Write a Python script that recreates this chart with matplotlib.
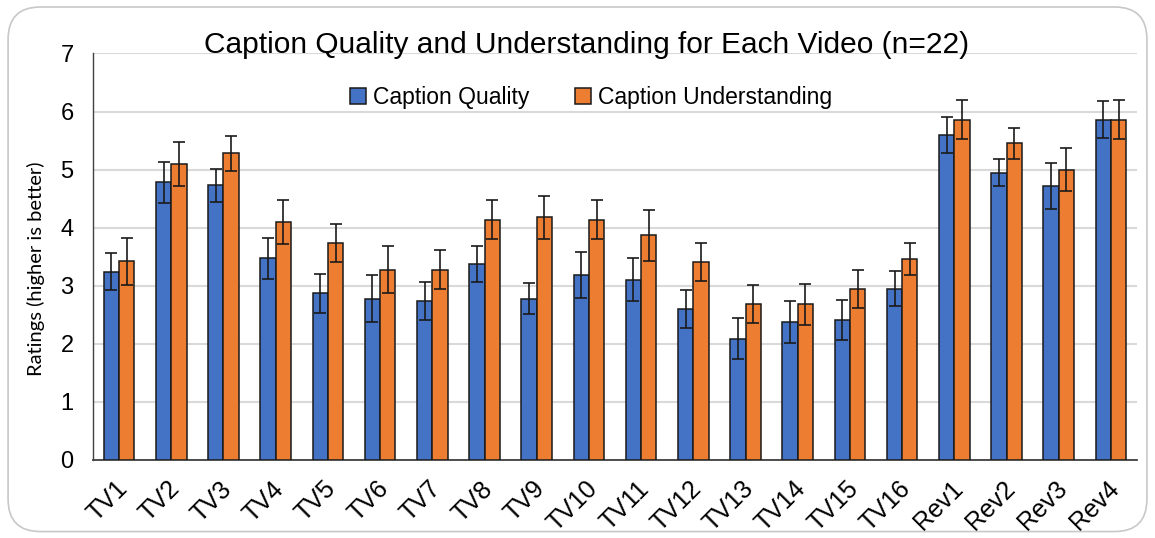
import matplotlib.pyplot as plt
import numpy as np
from matplotlib.patches import FancyBboxPatch
from matplotlib.transforms import ScaledTranslation

plt.rcParams['font.family'] = ['Liberation Sans', 'DejaVu Sans']

# data
videos = ['TV1', 'TV2', 'TV3', 'TV4', 'TV5', 'TV6', 'TV7', 'TV8', 'TV9', 'TV10',
          'TV11', 'TV12', 'TV13', 'TV14', 'TV15', 'TV16', 'Rev1', 'Rev2', 'Rev3', 'Rev4']
quality = [3.24, 4.78, 4.73, 3.47, 2.87, 2.78, 2.74, 3.37, 2.78, 3.19,
           3.10, 2.60, 2.09, 2.37, 2.41, 2.95, 5.59, 4.95, 4.72, 5.86]
quality_err = [0.32, 0.35, 0.28, 0.36, 0.34, 0.41, 0.33, 0.31, 0.27, 0.40,
               0.37, 0.33, 0.35, 0.36, 0.35, 0.30, 0.31, 0.23, 0.39, 0.32]
understanding = [3.42, 5.10, 5.28, 4.10, 3.74, 3.28, 3.28, 4.14, 4.18, 4.14,
                 3.87, 3.41, 2.69, 2.68, 2.95, 3.46, 5.86, 5.45, 5.00, 5.86]
understanding_err = [0.40, 0.38, 0.30, 0.38, 0.33, 0.41, 0.34, 0.34, 0.37, 0.34,
                     0.44, 0.33, 0.33, 0.35, 0.33, 0.28, 0.34, 0.27, 0.37, 0.34]

fig = plt.figure(figsize=(11.55, 5.38), dpi=100)
ax = fig.add_axes([0.0805, 0.145, 0.904, 0.7556])

x = np.arange(len(videos))
w = 0.293
err_kw = dict(ecolor='#1a1a1a', elinewidth=1.2, capsize=4, capthick=1.2)
ax.bar(x - w/2, quality, w, yerr=quality_err, color='#4472C4', edgecolor='#1a1a1a',
       linewidth=1.1, label='Caption Quality', error_kw=err_kw, zorder=3)
ax.bar(x + w/2, understanding, w, yerr=understanding_err, color='#ED7D31', edgecolor='#1a1a1a',
       linewidth=1.1, label='Caption Understanding', error_kw=err_kw, zorder=3)

ax.set_xlim(-0.5, len(videos) - 0.5)
ax.set_ylim(0, 7)
ax.set_yticks(range(0, 8))
ax.grid(axis='y', color='#d9d9d9', linewidth=1.5, zorder=0)
ax.set_axisbelow(True)
for s in ['top', 'right']:
    ax.spines[s].set_visible(False)
ax.spines['left'].set_color('#404040')
ax.spines['bottom'].set_color('#404040')
ax.spines['left'].set_linewidth(1.0)
ax.spines['bottom'].set_linewidth(1.3)
ax.tick_params(length=0, labelsize=17, pad=12)
ax.tick_params(axis='y', pad=14)
ax.set_xticks(x)
ax.set_xticklabels(videos, rotation=45, ha='right', rotation_mode='anchor', fontsize=18)
# nudge the rotated labels a little to the left, like the original
shift = ScaledTranslation(-4/100, 0, fig.dpi_scale_trans)
for lab in ax.get_xticklabels():
    lab.set_transform(lab.get_transform() + shift)
ax.set_ylabel('Ratings (higher is better)', fontsize=14.5, family=['Lato', 'DejaVu Sans'])
ax.yaxis.set_label_coords(-0.046, 0.47)

fig.text(0.508, 0.917, 'Caption Quality and Understanding for Each Video (n=22)',
         ha='center', va='center', fontsize=21.5)
ax.legend(loc='center', bbox_to_anchor=(0.512, 0.818), bbox_transform=fig.transFigure,
          ncol=2, frameon=False, fontsize=16.5, handlelength=0.7, handleheight=0.7,
          handletextpad=0.3, columnspacing=2.0)

border = FancyBboxPatch((0.007, 0.012), 0.986, 0.975, boxstyle='round,pad=0,rounding_size=0.028',
                        transform=fig.transFigure, facecolor='none', edgecolor='#c8c8c8',
                        linewidth=1.2, mutation_aspect=2.15)
fig.patches.append(border)

fig.savefig('out.png', dpi=100)
